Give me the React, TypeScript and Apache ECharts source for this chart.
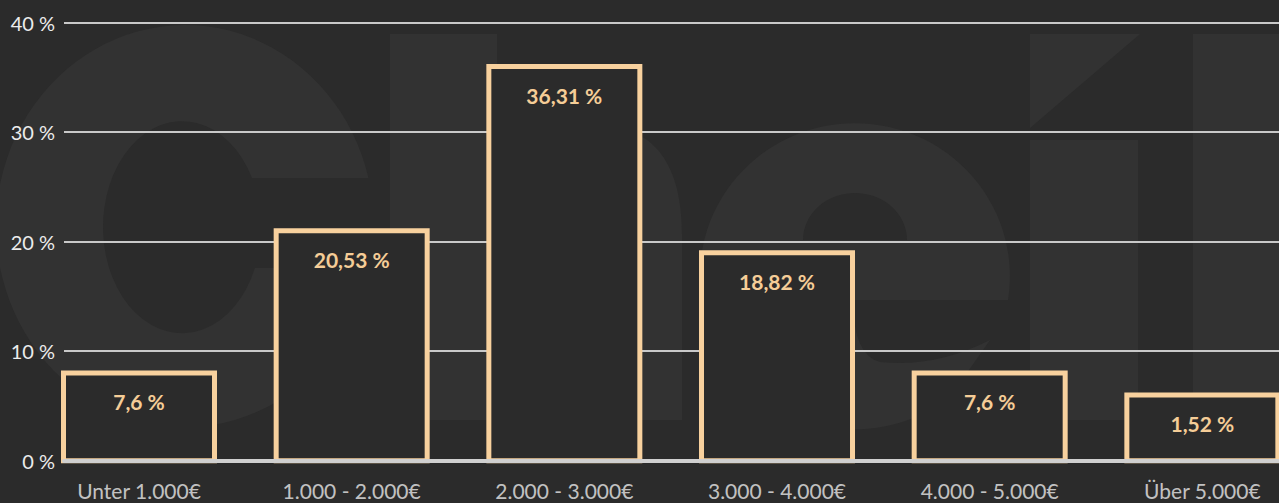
import React, { useEffect, useRef } from "react";
import * as echarts from "echarts";

const categories = [
  "Unter 1.000€",
  "1.000 - 2.000€",
  "2.000 - 3.000€",
  "3.000 - 4.000€",
  "4.000 - 5.000€",
  "Über 5.000€",
];
const barHeights = [8, 21, 36, 19, 8, 6];
const shareLabels = ["7,6 %", "20,53 %", "36,31 %", "18,82 %", "7,6 %", "1,52 %"];
const yMin = 0;
const yMax = 40;
const yStep = 10;

const WATERMARK =
  "M 368.5 178 A 189 201 0 1 0 369.8 268 L 254.9 268 A 79 106 0 1 1 252 178 Z " +
  "M 390 34 H 497 V 160 C 520 135 560 125 595 125 C 655 125 682 165 682 235 V 420 H 590 V 250 C 590 220 578 205 552 205 C 530 205 512 215 497 228 V 420 H 390 Z " +
  "M 1008 300 A 155 153 0 1 0 950 397 L 990 340 Q 935 368 880 362 Q 853 355 853 300 Z " +
  "M 803 240 A 52 47 0 0 1 907 240 Z " +
  "M 1030 34 L 1140 34 L 1030 128 Z " +
  "M 1030 140 H 1138 V 420 H 1030 Z " +
  "M 1193 34 H 1300 V 420 H 1193 Z";

let registered = false;

export default function App() {
  const ref = useRef<HTMLDivElement>(null);

  useEffect(() => {
    document.body.style.margin = "0";
    if (!registered) {
      echarts.graphic.registerShape("logo", echarts.graphic.extendPath(WATERMARK, {}));
      registered = true;
    }
    const chart = echarts.init(ref.current!, null, { renderer: "svg" });
    const font = "Lato, 'Noto Sans', sans-serif";
    const gridLeft = 64;
    const plotW = 1279 - gridLeft;
    const catW = 212.67;
    const firstCenter = 139;
    const xMin = -(firstCenter - gridLeft) / catW;
    const xMax = xMin + plotW / catW;
    const gridTop = 22.7;
    const gridBottom = 503 - 460.7;
    const barW = 151;

    chart.setOption({
      animation: false,
      backgroundColor: "#2b2b2b",
      graphic: {
        elements: [
          {
            type: "logo",
            x: 0,
            y: 0,
            scaleX: 1,
            scaleY: 1,
            z: -10,
            silent: true,
            style: { fill: "#323232" },
          },
        ],
      },
      grid: [
        { left: gridLeft, right: 0, top: gridTop, bottom: gridBottom },
        { left: gridLeft, right: 0, top: gridTop, bottom: gridBottom },
      ],
      xAxis: [
        {
          gridIndex: 0,
          type: "category",
          data: categories,
          z: 10,
          axisLine: { show: true, lineStyle: { color: "#d0d0d0", width: 4 } },
          axisTick: { show: false },
          axisLabel: { show: false },
          splitLine: { show: false },
        },
        {
          gridIndex: 1,
          type: "value",
          min: xMin,
          max: xMax,
          show: false,
          splitLine: { show: false },
        },
      ],
      yAxis: [
        {
          gridIndex: 0,
          type: "value",
          min: yMin,
          max: yMax,
          interval: yStep,
          axisLine: { show: false },
          axisTick: { show: false },
          axisLabel: {
            color: "#ececec",
            fontSize: 20,
            fontFamily: font,
            margin: 9,
            formatter: (v: number) => `${v} %`,
          },
          splitLine: { show: true, lineStyle: { color: "#c9c9c9", width: 2 } },
        },
        {
          gridIndex: 1,
          type: "value",
          min: yMin,
          max: yMax,
          interval: yStep,
          show: false,
          splitLine: { show: false },
        },
      ],
      series: [
        {
          type: "custom",
          xAxisIndex: 1,
          yAxisIndex: 1,
          clip: false,
          data: barHeights.map((h, i) => [i, h]),
          renderItem: (params: any, api: any) => {
            const top = api.coord([api.value(0), api.value(1)]);
            const base = api.coord([api.value(0), 0]);
            return {
              type: "group",
              children: [
                {
                  type: "rect",
                  shape: {
                    x: top[0] - barW / 2,
                    y: top[1],
                    width: barW,
                    height: base[1] - top[1],
                  },
                  style: { fill: "#2b2b2b", stroke: "#f8d19e", lineWidth: 5 },
                },
                {
                  type: "text",
                  x: top[0],
                  y: top[1] + 28.5,
                  style: {
                    text: shareLabels[params.dataIndex],
                    fill: "#f5cd97",
                    fontSize: 21,
                    fontWeight: "bold",
                    fontFamily: font,
                    align: "center",
                    verticalAlign: "middle",
                  },
                },
              ],
            };
          },
        },
        {
          type: "scatter",
          xAxisIndex: 1,
          yAxisIndex: 1,
          symbolSize: 0,
          clip: false,
          silent: true,
          data: categories.map((_, i) => [i, 0]),
          label: {
            show: true,
            position: "bottom",
            distance: 19,
            formatter: (p: any) => categories[p.dataIndex],
            color: "#ececec",
            fontSize: 21,
            lineHeight: 21,
            fontFamily: font,
          },
        },
      ],
    });
    return () => chart.dispose();
  }, []);

  return <div ref={ref} style={{ width: 1279, height: 503 }} />;
}
